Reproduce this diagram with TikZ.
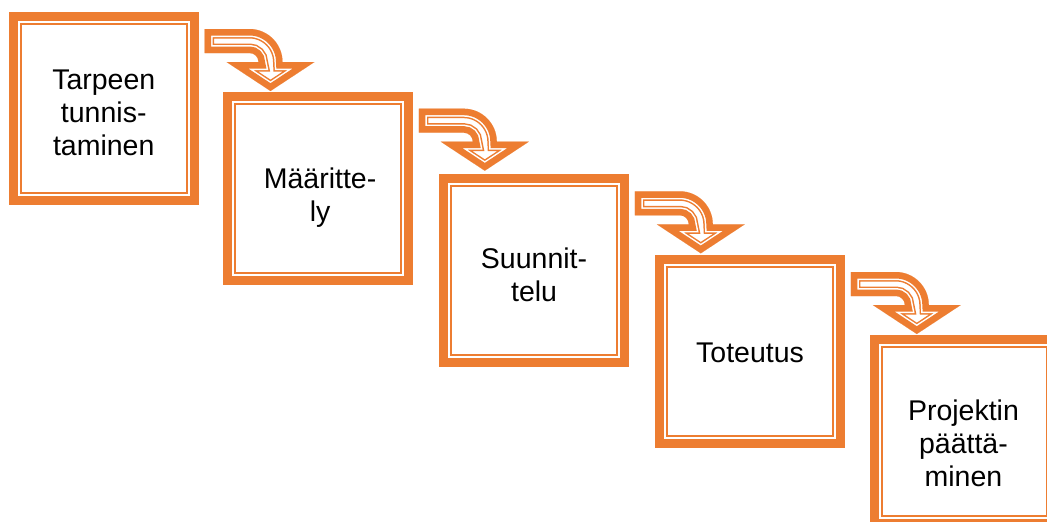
\documentclass[tikz,border=0pt]{standalone}
\usepackage{fontspec}
\setmainfont{Liberation Sans}
\definecolor{accent}{HTML}{ED7D31}

% outline of the bent block arrow, origin at the top-left of its shaft
\newcommand\bentshape{(0,0) -- (45,0) .. controls (63.2,0) and (78,14.8) .. (78,33)
  -- (110,33) -- (66,62) -- (22,33) -- (54,33)
  .. controls (54,28.03) and (49.97,24) .. (45,24) -- (0,24) -- cycle}

\tikzset{
  phase/.style={draw=accent, line width=9pt, fill=white, outer sep=0pt,
    minimum width=180.5pt, minimum height=184pt},
  innerline/.style={draw=accent, line width=2pt},
  label/.style={align=center, font=\fontsize{28.5}{33}\selectfont, inner sep=0pt},
  bentarrow/.pic={
    \begin{scope}
      \clip \bentshape;
      \fill[white] \bentshape;
      \draw[accent, line width=19pt, line join=miter] \bentshape;
      \draw[white, line width=16pt, line join=miter] \bentshape;
      \draw[accent, line width=13pt, line join=miter] \bentshape;
    \end{scope}
  }
}

\begin{document}
\begin{tikzpicture}[x=1pt, y=-1pt]
  \useasboundingbox (0,0) rectangle (1047,522);
  \clip (0,0) rectangle (1047,522);
  \fill[white] (0,0) rectangle (1047,522);

  % the five phase boxes
  \node[phase] (b1) at (103.75,108.5) {};
  \node[phase] (b2) at (318.05,188.2) {};
  \node[phase] (b3) at (534.05,270.8) {};
  \node[phase] (b4) at (750.05,351.5) {};
  \node[phase] (b5) at (964.45,431.5) {};

  \foreach \b in {b1,b2,b3,b4,b5}
    \draw[innerline] ([shift={(7.5,7.5)}]\b.north west) rectangle ([shift={(-7.5,-7.5)}]\b.south east);

  % labels
  \node[label] (t1) at ([shift={(0,4.5)}]b1.center) {Tarpeen\\tunnis-\\taminen};
  \node[label] (t2) at ([shift={(2,9)}]b2.center) {Määritte-\\ly};
  \node[label] (t3) at ([shift={(0,4)}]b3.center) {Suunnit-\\telu};
  \node[label] (t4) at ([shift={(0,1.5)}]b4.center) {Toteutus};
  \node[label] (t5) at ([shift={(-1,12)}]b5.center) {Projektin\\päättä-\\minen};

  % bent arrows leading from each box down to the next one
  \foreach \b in {b1,b2,b3,b4}
    \pic at ([shift={(10.5,12.5)}]\b.north east) {bentarrow};
\end{tikzpicture}
\end{document}
